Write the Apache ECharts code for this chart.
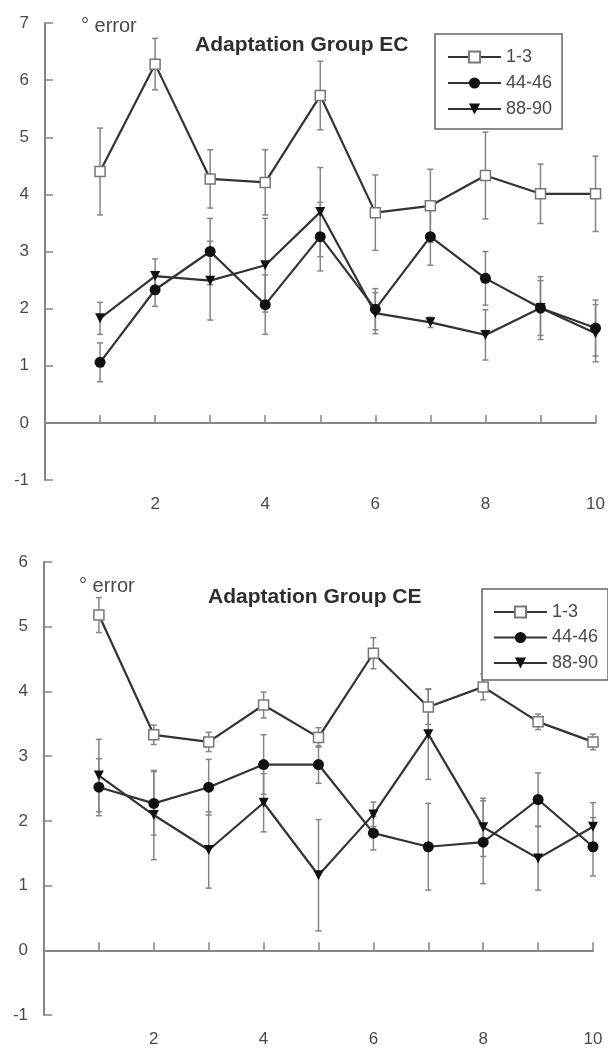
<!DOCTYPE html>
<html>
<head>
<meta charset="utf-8">
<script src="https://cdn.jsdelivr.net/npm/echarts@6/dist/echarts.min.js"></script>
<style>
  html, body { margin: 0; padding: 0; background: #fff; }
  #chart { width: 608px; height: 1052px; }
</style>
</head>
<body>
<div id="chart"></div>
<script>
// trial blocks
var blocks = [1, 2, 3, 4, 5, 6, 7, 8, 9, 10];
var seriesNames = ['1-3', '44-46', '88-90'];

// Adaptation Group EC
var ec13 = [4.40, 6.28, 4.27, 4.21, 5.73, 3.68, 3.80, 4.33, 4.01, 4.01];
var ec13Err = [0.76, 0.45, 0.51, 0.57, 0.60, 0.66, 0.64, 0.76, 0.52, 0.66];
var ec4446 = [1.06, 2.33, 3.00, 2.07, 3.26, 1.99, 3.26, 2.53, 2.01, 1.66];
var ec4446Err = [0.34, 0.29, 0.58, 0.52, 0.60, 0.36, 0.50, 0.47, 0.55, 0.49];
var ec8890 = [1.83, 2.57, 2.49, 2.76, 3.69, 1.92, 1.76, 1.54, 2.01, 1.57];
var ec8890Err = [0.28, 0.30, 0.69, 0.82, 0.78, 0.36, 0.09, 0.44, 0.48, 0.50];

// Adaptation Group CE
var ce13 = [5.18, 3.33, 3.22, 3.79, 3.29, 4.59, 3.76, 4.07, 3.53, 3.22];
var ce13Err = [0.27, 0.15, 0.15, 0.20, 0.15, 0.24, 0.27, 0.20, 0.12, 0.12];
var ce4446 = [2.52, 2.27, 2.52, 2.87, 2.87, 1.81, 1.60, 1.67, 2.33, 1.60];
var ce4446Err = [0.44, 0.49, 0.43, 0.46, 0.29, 0.26, 0.67, 0.64, 0.41, 0.45];
var ce8890 = [2.70, 2.09, 1.55, 2.28, 1.16, 2.10, 3.34, 1.90, 1.42, 1.91];
var ce8890Err = [0.56, 0.69, 0.59, 0.45, 0.86, 0.19, 0.70, 0.45, 0.49, 0.37];

var FONT = 'Liberation Sans, Arial, sans-serif';
var AXIS_GRAY = '#858585';
var TEXT_GRAY = '#4a4a4a';
var LINE_DARK = '#333';

var markers = {
  '1-3': { symbol: 'rect', symbolSize: 10, symbolRotate: 0, itemStyle: { color: '#fff', borderColor: '#777', borderWidth: 1.5 } },
  '44-46': { symbol: 'circle', symbolSize: 11, symbolRotate: 0, itemStyle: { color: '#111' } },
  '88-90': { symbol: 'triangle', symbolSize: 10, symbolRotate: 180, itemStyle: { color: '#111' } }
};

function pairs(vals) {
  return blocks.map(function (b, i) { return [b, vals[i]]; });
}

function errRows(vals, errs) {
  return blocks.map(function (b, i) { return [b, vals[i] - errs[i], vals[i] + errs[i]]; });
}

function renderErrorBar(params, api) {
  var x = api.value(0);
  var lo = api.coord([x, api.value(1)]);
  var hi = api.coord([x, api.value(2)]);
  var cap = 3;
  var style = { stroke: '#858585', lineWidth: 1.5 };
  return {
    type: 'group',
    children: [
      { type: 'line', shape: { x1: lo[0], y1: lo[1], x2: hi[0], y2: hi[1] }, style: style },
      { type: 'line', shape: { x1: lo[0] - cap, y1: lo[1], x2: lo[0] + cap, y2: lo[1] }, style: style },
      { type: 'line', shape: { x1: hi[0] - cap, y1: hi[1], x2: hi[0] + cap, y2: hi[1] }, style: style }
    ]
  };
}

function lineSeries(name, vals, idx) {
  var m = markers[name];
  return {
    name: name,
    type: 'line',
    xAxisIndex: idx,
    yAxisIndex: idx,
    data: pairs(vals),
    symbol: m.symbol,
    symbolSize: m.symbolSize,
    symbolRotate: m.symbolRotate,
    itemStyle: m.itemStyle,
    lineStyle: { color: LINE_DARK, width: 2.2 },
    z: 3
  };
}

function errSeries(vals, errs, idx) {
  return {
    type: 'custom',
    xAxisIndex: idx,
    yAxisIndex: idx,
    renderItem: renderErrorBar,
    encode: { x: 0, y: [1, 2] },
    data: errRows(vals, errs),
    z: 1
  };
}

function xAxis(idx) {
  return {
    type: 'value',
    gridIndex: idx,
    min: 0,
    max: 10,
    interval: 1,
    axisLine: { lineStyle: { color: AXIS_GRAY, width: 2 } },
    axisTick: { inside: true, length: 8, lineStyle: { color: AXIS_GRAY, width: 1.5 } },
    axisLabel: {
      margin: 16,
      color: TEXT_GRAY,
      fontSize: 17,
      fontFamily: FONT,
      formatter: function (v) { return (v > 0 && v % 2 === 0) ? String(v) : ''; }
    },
    splitLine: { show: false }
  };
}

function yAxis(idx, max) {
  return {
    type: 'value',
    gridIndex: idx,
    min: -1,
    max: max,
    interval: 1,
    axisLine: { show: true, lineStyle: { color: AXIS_GRAY, width: 2 } },
    axisTick: { show: true, inside: true, length: 8, lineStyle: { color: AXIS_GRAY, width: 1.5 } },
    axisLabel: { margin: 16, color: TEXT_GRAY, fontSize: 17, fontFamily: FONT },
    splitLine: { show: false }
  };
}

function legend(left, top, gap, padding) {
  return {
    data: seriesNames,
    orient: 'vertical',
    left: left,
    top: top,
    itemWidth: 53,
    itemHeight: 14,
    itemGap: gap,
    padding: padding,
    borderColor: '#666',
    borderWidth: 1.5,
    backgroundColor: '#fff',
    selectedMode: false,
    textStyle: { color: TEXT_GRAY, fontSize: 18, fontFamily: FONT }
  };
}

var chart = echarts.init(document.getElementById('chart'));

chart.setOption({
  animation: false,
  backgroundColor: '#fff',
  title: [
    { text: 'Adaptation Group EC', left: 190, top: 30, textStyle: { fontSize: 21, fontWeight: 'bold', color: '#2e2e2e', fontFamily: FONT } },
    { text: '° error', left: 76, top: 11, textStyle: { fontSize: 20, fontWeight: 'normal', color: TEXT_GRAY, fontFamily: FONT } },
    { text: 'Adaptation Group CE', left: 203, top: 582, textStyle: { fontSize: 21, fontWeight: 'bold', color: '#2e2e2e', fontFamily: FONT } },
    { text: '° error', left: 74, top: 571, textStyle: { fontSize: 20, fontWeight: 'normal', color: TEXT_GRAY, fontFamily: FONT } }
  ],
  legend: [
    legend(435, 34, 8, [14, 10, 11, 12]),
    legend(482, 589, 7.5, [14, 10, 8, 11])
  ],
  grid: [
    { left: 45, right: 8, top: 23, height: 457 },
    { left: 44, right: 15, top: 562, height: 453 }
  ],
  xAxis: [xAxis(0), xAxis(1)],
  yAxis: [yAxis(0, 7), yAxis(1, 6)],
  series: [
    errSeries(ec13, ec13Err, 0),
    errSeries(ec4446, ec4446Err, 0),
    errSeries(ec8890, ec8890Err, 0),
    lineSeries('1-3', ec13, 0),
    lineSeries('44-46', ec4446, 0),
    lineSeries('88-90', ec8890, 0),
    errSeries(ce13, ce13Err, 1),
    errSeries(ce4446, ce4446Err, 1),
    errSeries(ce8890, ce8890Err, 1),
    lineSeries('1-3', ce13, 1),
    lineSeries('44-46', ce4446, 1),
    lineSeries('88-90', ce8890, 1)
  ]
});
</script>
</body>
</html>
